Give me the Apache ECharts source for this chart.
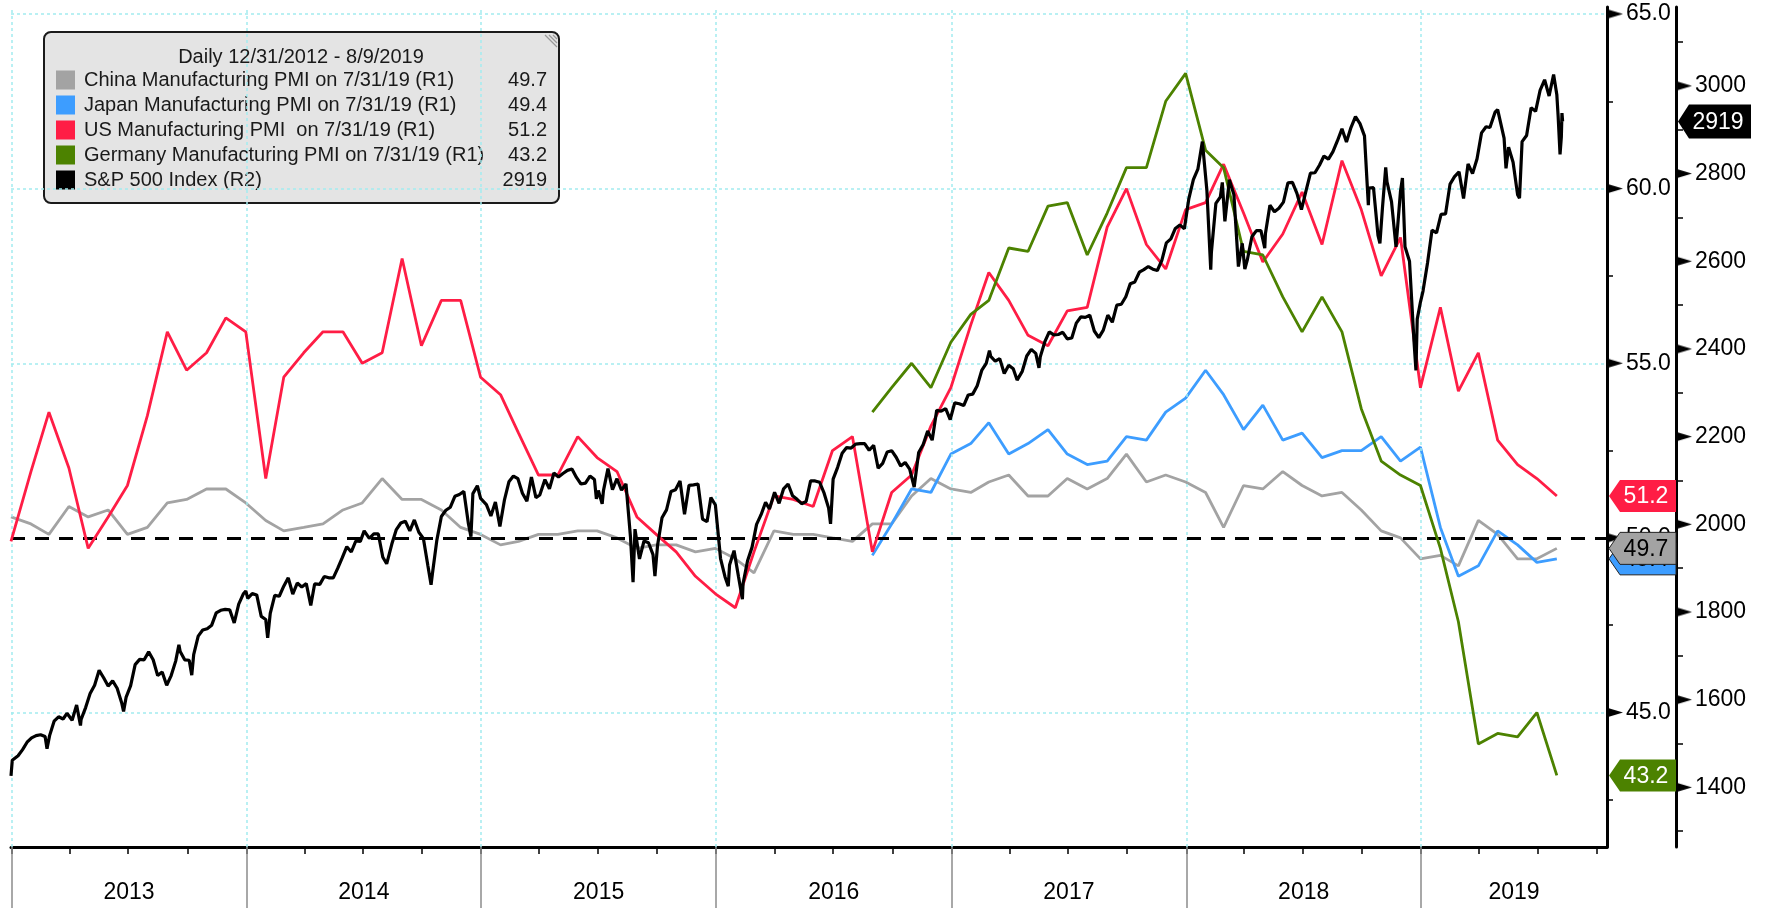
<!DOCTYPE html>
<html>
<head>
<meta charset="utf-8">
<title>Manufacturing PMI vs S&amp;P 500</title>
<script src="https://cdn.jsdelivr.net/npm/echarts@6/dist/echarts.min.js"></script>
<style>
  html, body { margin: 0; padding: 0; background: #fff; }
  #chart { width: 1765px; height: 908px; }
</style>
</head>
<body>
<div id="chart"></div>
<script>
const FONT = '"Liberation Sans", Arial, sans-serif';

// monthly PMI, first value is Dec 2012, last one Jul 2019 (month end)
const chinaPmi = [50.6,
  50.4, 50.1, 50.9, 50.6, 50.8, 50.1, 50.3, 51.0, 51.1, 51.4, 51.4, 51.0,
  50.5, 50.2, 50.3, 50.4, 50.8, 51.0, 51.7, 51.1, 51.1, 50.8, 50.3, 50.1,
  49.8, 49.9, 50.1, 50.1, 50.2, 50.2, 50.0, 49.7, 49.8, 49.8, 49.6, 49.7,
  49.4, 49.0, 50.2, 50.1, 50.1, 50.0, 49.9, 50.4, 50.4, 51.2, 51.7, 51.4,
  51.3, 51.6, 51.8, 51.2, 51.2, 51.7, 51.4, 51.7, 52.4, 51.6, 51.8, 51.6,
  51.3, 50.3, 51.5, 51.4, 51.9, 51.5, 51.2, 51.3, 50.8, 50.2, 50.0, 49.4,
  49.5, 49.2, 50.5, 50.1, 49.4, 49.4, 49.7];
const usPmi = [49.9,
  51.9, 53.6, 52.0, 49.7, 50.6, 51.5, 53.5, 55.9, 54.8, 55.3, 56.3, 55.9,
  51.7, 54.6, 55.3, 55.9, 55.9, 55.0, 55.3, 58.0, 55.5, 56.8, 56.8, 54.6,
  54.1, 53.0, 51.8, 51.8, 52.9, 52.3, 51.9, 50.6, 50.1, 49.6, 48.9, 48.4,
  48.0, 49.6, 51.2, 51.1, 50.9, 52.5, 52.9, 49.6, 51.3, 51.8, 53.2, 54.3,
  56.1, 57.6, 56.8, 55.8, 55.5, 56.5, 56.6, 58.9, 60.0, 58.4, 57.7, 59.4,
  59.6, 60.7, 59.3, 57.9, 58.7, 59.9, 58.4, 60.8, 59.4, 57.5, 58.6, 54.3,
  56.6, 54.2, 55.3, 52.8, 52.1, 51.7, 51.2];
// these two start in Aug 2016
const japanPmi = [49.5, 50.4, 51.4, 51.3, 52.4,
  52.7, 53.3, 52.4, 52.7, 53.1, 52.4, 52.1, 52.2, 52.9, 52.8, 53.6, 54.0,
  54.8, 54.1, 53.1, 53.8, 52.8, 53.0, 52.3, 52.5, 52.5, 52.9, 52.2, 52.6,
  50.3, 48.9, 49.2, 50.2, 49.8, 49.3, 49.4];
const germanyPmi = [53.6, 54.3, 55.0, 54.3, 55.6,
  56.4, 56.8, 58.3, 58.2, 59.5, 59.6, 58.1, 59.3, 60.6, 60.6, 62.5, 63.3,
  61.1, 60.6, 58.2, 58.1, 56.9, 55.9, 56.9, 55.9, 53.7, 52.2, 51.8, 51.5,
  49.7, 47.6, 44.1, 44.4, 44.3, 45.0, 43.2];

// S&P 500 closes, one row per year
const spx2013 = [
  ['2012-12-31', 1426], ['2013-01-02', 1462], ['2013-01-04', 1466], ['2013-01-11', 1472], ['2013-01-18', 1486],
  ['2013-01-25', 1503], ['2013-02-01', 1513], ['2013-02-08', 1518], ['2013-02-15', 1520], ['2013-02-22', 1516],
  ['2013-02-25', 1488], ['2013-03-01', 1518], ['2013-03-08', 1551], ['2013-03-15', 1561], ['2013-03-22', 1556],
  ['2013-03-28', 1569], ['2013-04-05', 1553], ['2013-04-12', 1588], ['2013-04-18', 1541], ['2013-04-19', 1555],
  ['2013-04-26', 1582], ['2013-05-03', 1614], ['2013-05-10', 1633], ['2013-05-17', 1667], ['2013-05-24', 1650],
  ['2013-05-31', 1631], ['2013-06-07', 1643], ['2013-06-14', 1626], ['2013-06-21', 1593], ['2013-06-24', 1573],
  ['2013-06-28', 1606], ['2013-07-05', 1632], ['2013-07-12', 1680], ['2013-07-19', 1692], ['2013-07-26', 1691],
  ['2013-08-02', 1709], ['2013-08-09', 1691], ['2013-08-16', 1655], ['2013-08-23', 1663], ['2013-08-30', 1633],
  ['2013-09-06', 1655], ['2013-09-13', 1688], ['2013-09-18', 1725], ['2013-09-20', 1710], ['2013-09-27', 1691],
  ['2013-10-04', 1690], ['2013-10-08', 1656], ['2013-10-11', 1703], ['2013-10-18', 1745], ['2013-10-25', 1759],
  ['2013-11-01', 1762], ['2013-11-08', 1770], ['2013-11-15', 1798], ['2013-11-22', 1804], ['2013-11-29', 1806],
  ['2013-12-06', 1805], ['2013-12-13', 1775], ['2013-12-20', 1818], ['2013-12-27', 1841], ['2013-12-31', 1848]
];
const spx2014 = [
  ['2014-01-03', 1831], ['2014-01-10', 1842], ['2014-01-17', 1839], ['2014-01-24', 1790], ['2014-01-31', 1783],
  ['2014-02-03', 1741], ['2014-02-07', 1797], ['2014-02-14', 1838], ['2014-02-21', 1836], ['2014-02-28', 1859],
  ['2014-03-07', 1878], ['2014-03-14', 1841], ['2014-03-21', 1866], ['2014-03-28', 1857], ['2014-04-04', 1865],
  ['2014-04-11', 1815], ['2014-04-17', 1864], ['2014-04-25', 1863], ['2014-05-02', 1881], ['2014-05-09', 1878],
  ['2014-05-16', 1878], ['2014-05-23', 1900], ['2014-05-30', 1924], ['2014-06-06', 1949], ['2014-06-13', 1937],
  ['2014-06-20', 1962], ['2014-06-27', 1961], ['2014-07-03', 1985], ['2014-07-11', 1968], ['2014-07-18', 1978],
  ['2014-07-25', 1978], ['2014-08-01', 1925], ['2014-08-07', 1910], ['2014-08-15', 1955], ['2014-08-22', 1988],
  ['2014-08-29', 2003], ['2014-09-05', 2007], ['2014-09-12', 1985], ['2014-09-19', 2010], ['2014-09-26', 1982],
  ['2014-10-03', 1968], ['2014-10-10', 1906], ['2014-10-15', 1862], ['2014-10-17', 1886], ['2014-10-24', 1964],
  ['2014-10-31', 2018], ['2014-11-07', 2032], ['2014-11-14', 2039], ['2014-11-21', 2064], ['2014-11-28', 2068],
  ['2014-12-05', 2075], ['2014-12-12', 2002], ['2014-12-16', 1972], ['2014-12-19', 2070], ['2014-12-26', 2088],
  ['2014-12-31', 2059]
];
const spx2015 = [
  ['2015-01-02', 2058], ['2015-01-09', 2045], ['2015-01-16', 2019], ['2015-01-23', 2051], ['2015-01-30', 1995],
  ['2015-02-06', 2055], ['2015-02-13', 2097], ['2015-02-20', 2110], ['2015-02-27', 2104], ['2015-03-06', 2071],
  ['2015-03-13', 2053], ['2015-03-20', 2108], ['2015-03-27', 2061], ['2015-04-02', 2067], ['2015-04-10', 2102],
  ['2015-04-17', 2081], ['2015-04-24', 2117], ['2015-05-01', 2108], ['2015-05-08', 2116], ['2015-05-15', 2123],
  ['2015-05-22', 2126], ['2015-05-29', 2107], ['2015-06-05', 2092], ['2015-06-12', 2094], ['2015-06-19', 2110],
  ['2015-06-26', 2102], ['2015-06-29', 2058], ['2015-07-02', 2077], ['2015-07-08', 2047], ['2015-07-10', 2077],
  ['2015-07-17', 2127], ['2015-07-24', 2079], ['2015-07-31', 2104], ['2015-08-07', 2078], ['2015-08-14', 2092],
  ['2015-08-21', 1971], ['2015-08-25', 1868], ['2015-08-28', 1989], ['2015-09-04', 1921], ['2015-09-11', 1962],
  ['2015-09-18', 1958], ['2015-09-25', 1931], ['2015-09-28', 1882], ['2015-10-02', 1951], ['2015-10-09', 2015],
  ['2015-10-16', 2033], ['2015-10-23', 2075], ['2015-10-30', 2079], ['2015-11-06', 2099], ['2015-11-13', 2023],
  ['2015-11-20', 2089], ['2015-11-27', 2090], ['2015-12-04', 2092], ['2015-12-11', 2012], ['2015-12-18', 2006],
  ['2015-12-24', 2061], ['2015-12-31', 2044]
];
const spx2016 = [
  ['2016-01-08', 1922], ['2016-01-15', 1880], ['2016-01-20', 1859], ['2016-01-22', 1907], ['2016-01-29', 1940],
  ['2016-02-05', 1880], ['2016-02-11', 1829], ['2016-02-12', 1865], ['2016-02-19', 1917], ['2016-02-26', 1948],
  ['2016-03-04', 2000], ['2016-03-11', 2022], ['2016-03-18', 2050], ['2016-03-24', 2035], ['2016-04-01', 2073],
  ['2016-04-08', 2048], ['2016-04-15', 2081], ['2016-04-22', 2092], ['2016-04-29', 2065], ['2016-05-06', 2057],
  ['2016-05-13', 2047], ['2016-05-20', 2052], ['2016-05-27', 2099], ['2016-06-03', 2099], ['2016-06-10', 2096],
  ['2016-06-17', 2071], ['2016-06-24', 2037], ['2016-06-27', 2001], ['2016-07-01', 2103], ['2016-07-08', 2130],
  ['2016-07-15', 2162], ['2016-07-22', 2175], ['2016-07-29', 2174], ['2016-08-05', 2183], ['2016-08-12', 2184],
  ['2016-08-19', 2184], ['2016-08-26', 2169], ['2016-09-02', 2180], ['2016-09-09', 2128], ['2016-09-16', 2139],
  ['2016-09-23', 2165], ['2016-09-30', 2168], ['2016-10-07', 2153], ['2016-10-14', 2133], ['2016-10-21', 2141],
  ['2016-10-28', 2126], ['2016-11-04', 2085], ['2016-11-11', 2164], ['2016-11-18', 2182], ['2016-11-25', 2213],
  ['2016-12-02', 2192], ['2016-12-09', 2260], ['2016-12-16', 2258], ['2016-12-23', 2264], ['2016-12-30', 2239]
];
const spx2017 = [
  ['2017-01-06', 2277], ['2017-01-13', 2275], ['2017-01-20', 2271], ['2017-01-27', 2295], ['2017-02-03', 2297],
  ['2017-02-10', 2316], ['2017-02-17', 2351], ['2017-02-24', 2367], ['2017-03-01', 2396], ['2017-03-03', 2383],
  ['2017-03-10', 2372], ['2017-03-17', 2378], ['2017-03-24', 2344], ['2017-03-31', 2363], ['2017-04-07', 2355],
  ['2017-04-13', 2329], ['2017-04-21', 2349], ['2017-04-28', 2384], ['2017-05-05', 2399], ['2017-05-12', 2390],
  ['2017-05-17', 2357], ['2017-05-19', 2382], ['2017-05-26', 2416], ['2017-06-02', 2439], ['2017-06-09', 2432],
  ['2017-06-16', 2433], ['2017-06-23', 2438], ['2017-06-30', 2423], ['2017-07-07', 2425], ['2017-07-14', 2459],
  ['2017-07-21', 2473], ['2017-07-28', 2472], ['2017-08-04', 2477], ['2017-08-11', 2441], ['2017-08-18', 2426],
  ['2017-08-25', 2443], ['2017-09-01', 2477], ['2017-09-08', 2461], ['2017-09-15', 2500], ['2017-09-22', 2502],
  ['2017-09-29', 2519], ['2017-10-06', 2549], ['2017-10-13', 2553], ['2017-10-20', 2575], ['2017-10-27', 2581],
  ['2017-11-03', 2588], ['2017-11-10', 2582], ['2017-11-17', 2579], ['2017-11-24', 2602], ['2017-12-01', 2642],
  ['2017-12-08', 2651], ['2017-12-15', 2675], ['2017-12-22', 2683], ['2017-12-29', 2674]
];
const spx2018 = [
  ['2018-01-05', 2743], ['2018-01-12', 2786], ['2018-01-19', 2810], ['2018-01-26', 2873], ['2018-02-02', 2762],
  ['2018-02-08', 2581], ['2018-02-09', 2620], ['2018-02-16', 2732], ['2018-02-23', 2747], ['2018-02-26', 2780],
  ['2018-03-02', 2691], ['2018-03-09', 2786], ['2018-03-16', 2752], ['2018-03-23', 2588], ['2018-03-29', 2641],
  ['2018-04-02', 2582], ['2018-04-06', 2604], ['2018-04-13', 2656], ['2018-04-20', 2670], ['2018-04-27', 2670],
  ['2018-05-03', 2630], ['2018-05-04', 2663], ['2018-05-11', 2728], ['2018-05-18', 2713], ['2018-05-25', 2721],
  ['2018-06-01', 2735], ['2018-06-08', 2779], ['2018-06-15', 2780], ['2018-06-22', 2755], ['2018-06-29', 2718],
  ['2018-07-06', 2760], ['2018-07-13', 2801], ['2018-07-20', 2802], ['2018-07-27', 2819], ['2018-08-03', 2840],
  ['2018-08-10', 2833], ['2018-08-17', 2850], ['2018-08-24', 2875], ['2018-08-31', 2902], ['2018-09-07', 2872],
  ['2018-09-14', 2905], ['2018-09-21', 2930], ['2018-09-28', 2914], ['2018-10-05', 2886], ['2018-10-11', 2728],
  ['2018-10-12', 2767], ['2018-10-19', 2768], ['2018-10-26', 2659], ['2018-10-29', 2641], ['2018-11-02', 2723],
  ['2018-11-07', 2814], ['2018-11-09', 2781], ['2018-11-16', 2736], ['2018-11-23', 2633], ['2018-11-30', 2760],
  ['2018-12-03', 2790], ['2018-12-07', 2633], ['2018-12-14', 2600], ['2018-12-21', 2417], ['2018-12-24', 2351],
  ['2018-12-26', 2468], ['2018-12-31', 2507]
];
const spx2019 = [
  ['2019-01-04', 2532], ['2019-01-11', 2596], ['2019-01-18', 2671], ['2019-01-25', 2665], ['2019-02-01', 2707],
  ['2019-02-08', 2708], ['2019-02-15', 2776], ['2019-02-22', 2793], ['2019-03-01', 2804], ['2019-03-08', 2743],
  ['2019-03-15', 2822], ['2019-03-22', 2800], ['2019-03-29', 2834], ['2019-04-05', 2893], ['2019-04-12', 2907],
  ['2019-04-18', 2905], ['2019-04-26', 2940], ['2019-04-30', 2946], ['2019-05-03', 2946], ['2019-05-10', 2881],
  ['2019-05-13', 2812], ['2019-05-17', 2860], ['2019-05-24', 2826], ['2019-05-31', 2752], ['2019-06-03', 2744],
  ['2019-06-07', 2873], ['2019-06-14', 2887], ['2019-06-21', 2950], ['2019-06-28', 2942], ['2019-07-05', 2990],
  ['2019-07-12', 3014], ['2019-07-19', 2977], ['2019-07-26', 3026], ['2019-07-31', 2980], ['2019-08-02', 2932],
  ['2019-08-05', 2844], ['2019-08-07', 2883], ['2019-08-08', 2938], ['2019-08-09', 2919]
];

const names = [
  'China Manufacturing PMI on 7/31/19 (R1)',
  'Japan Manufacturing PMI on 7/31/19 (R1)',
  'US Manufacturing PMI  on 7/31/19 (R1)',
  'Germany Manufacturing PMI on 7/31/19 (R1)',
  'S&P 500 Index (R2)'
];
const colors = ['#a3a3a3', '#3d9dff', '#ff1d45', '#4c8200', '#000000'];
const pmiTicks = [45, 50, 55, 60, 65];
const pmiMinor = [42.5, 47.5, 52.5, 57.5, 62.5];
const spTicks = [1400, 1600, 1800, 2000, 2200, 2400, 2600, 2800, 3000];
const spMinor = [1300, 1500, 1700, 1900, 2100, 2300, 2500, 2700, 2900, 3100];
const years = [2013, 2014, 2015, 2016, 2017, 2018, 2019];

function ts(s) {
  const p = s.split('-').map(Number);
  return new Date(p[0], p[1] - 1, p[2]).getTime();
}
const xMin = ts('2012-12-31');
const xMax = ts('2019-10-17');

// month-end dates for the PMI series
const pmiDates = chinaPmi.map((_, i) => new Date(2012 + Math.floor((11 + i) / 12), (11 + i) % 12 + 1, 0).getTime());
function monthly(vals) {
  const off = pmiDates.length - vals.length;
  return vals.map((v, i) => [pmiDates[off + i], v]);
}
const spx = [].concat(spx2013, spx2014, spx2015, spx2016, spx2017, spx2018, spx2019);
const spData = spx.map(d => [ts(d[0]), d[1]]);

const quarterTicks = [];
years.forEach(y => [0, 3, 6, 9].forEach(m => {
  const t = new Date(y, m, 1).getTime();
  if (t >= xMin && t <= xMax) quarterTicks.push(t);
}));
const yearStarts = years.map(y => new Date(y, 0, 1).getTime());
const yearMids = years.map(y => {
  const a = Math.max(new Date(y, 0, 1).getTime(), xMin);
  const b = Math.min(new Date(y + 1, 0, 1).getTime(), xMax);
  return (a + b) / 2;
});

const lastText = {};
lastText[names[0]] = chinaPmi[chinaPmi.length - 1].toFixed(1);
lastText[names[1]] = japanPmi[japanPmi.length - 1].toFixed(1);
lastText[names[2]] = usPmi[usPmi.length - 1].toFixed(1);
lastText[names[3]] = germanyPmi[germanyPmi.length - 1].toFixed(1);
lastText[names[4]] = String(spx[spx.length - 1][1]);

function lineSeries(i, data, yAxisIndex, width) {
  return {
    name: names[i], type: 'line', data: data, yAxisIndex: yAxisIndex,
    showSymbol: false, symbol: 'none', color: colors[i],
    lineStyle: { width: width, color: colors[i] }, z: 3 + i
  };
}

// value tag drawn at the right edge of the plot, pointing at the last value
function tagSeries(point, yAxisIndex, fill, textColor, stroke, text) {
  const onR2 = yAxisIndex === 1;
  return {
    type: 'custom', yAxisIndex: yAxisIndex, z: 20, clip: false, silent: true,
    data: [point],
    renderItem: function (params, api) {
      const cs = params.coordSys;
      const y = api.coord([api.value(0), api.value(1)])[1];
      const x = cs.x + cs.width + (onR2 ? 69 : 0);
      const w = onR2 ? 75 : 69;
      const h = onR2 ? 17 : 16;
      return {
        type: 'group',
        children: [
          {
            type: 'polygon',
            shape: { points: [[x + 2, y], [x + 13, y - h], [x + w, y - h], [x + w, y + h], [x + 13, y + h]] },
            style: { fill: fill, stroke: stroke || null, lineWidth: stroke ? 1 : 0 }
          },
          {
            type: 'text',
            style: {
              text: text, x: x + (onR2 ? 42 : 39), y: y + 1, align: 'center', verticalAlign: 'middle',
              fill: textColor, fontSize: 23, fontFamily: FONT
            }
          }
        ]
      };
    }
  };
}

// small black pointer used in front of each axis label
const tri = document.createElement('canvas');
tri.width = 15;
tri.height = 9;
(function () {
  const c = tri.getContext('2d');
  c.fillStyle = '#000';
  c.beginPath();
  c.moveTo(0, 0);
  c.lineTo(15, 4.5);
  c.lineTo(0, 9);
  c.closePath();
  c.fill();
})();

function axisLabelFmt(digits) {
  return function (v) { return '{t| }{v|' + (digits ? v.toFixed(digits) : v) + '}'; };
}
const axisRich = {
  t: { width: 15, height: 9, verticalAlign: 'middle', backgroundColor: { image: tri } },
  v: { fontSize: 23, color: '#000', fontFamily: FONT, padding: [0, 0, 0, 3] }
};

const chart = echarts.init(document.getElementById('chart'));

chart.setOption({
  animation: false,
  backgroundColor: '#ffffff',
  textStyle: { fontFamily: FONT },
  grid: { left: 11, right: 158, top: 7, bottom: 61, containLabel: false },
  legend: {
    left: 44, top: 32,
    orient: 'vertical',
    padding: [38, 12, 13, 12],
    itemWidth: 19, itemHeight: 19, itemGap: 5,
    icon: 'rect',
    backgroundColor: '#e4e4e4',
    borderColor: '#1a1a1a', borderWidth: 2, borderRadius: 7,
    selectedMode: false,
    data: names,
    formatter: function (name) { return '{n|' + name + '}{v|' + lastText[name] + '}'; },
    textStyle: {
      fontFamily: FONT, fontSize: 20, color: '#1a1a1a', lineHeight: 19,
      rich: {
        n: { width: 411, padding: [0, 0, 0, 4], fontSize: 20, lineHeight: 19, fontFamily: FONT, color: '#1a1a1a' },
        v: { width: 52, align: 'right', fontSize: 20, lineHeight: 19, fontFamily: FONT, color: '#1a1a1a' }
      }
    }
  },
  graphic: [
    {
      type: 'text', z: 100, x: 301, y: 57,
      style: { text: 'Daily 12/31/2012 - 8/9/2019', align: 'center', verticalAlign: 'middle', fontSize: 20, fontFamily: FONT, fill: '#1a1a1a' }
    },
    { type: 'line', z: 100, shape: { x1: 545, y1: 35, x2: 557, y2: 47 }, style: { stroke: '#999', lineWidth: 1.2 } },
    { type: 'line', z: 100, shape: { x1: 549, y1: 35, x2: 557, y2: 43 }, style: { stroke: '#999', lineWidth: 1.2 } },
    { type: 'line', z: 100, shape: { x1: 553, y1: 35, x2: 557, y2: 39 }, style: { stroke: '#999', lineWidth: 1.2 } }
  ],
  xAxis: [
    {
      type: 'value', min: xMin, max: xMax, position: 'bottom',
      axisLine: { show: true, lineStyle: { color: '#000', width: 3 } },
      axisTick: { show: true, customValues: quarterTicks, length: 7, lineStyle: { color: '#000', width: 1.5 } },
      axisLabel: {
        customValues: yearMids, margin: 34, fontSize: 23, color: '#000', fontFamily: FONT,
        formatter: function (v) { return String(new Date(v).getFullYear()); }
      },
      splitLine: { show: false }
    },
    {
      type: 'value', min: xMin, max: xMax, position: 'bottom',
      axisLine: { show: false },
      axisTick: { show: true, customValues: yearStarts, length: 61, lineStyle: { color: '#8c8c8c', width: 1.5 } },
      axisLabel: { show: false },
      splitLine: { show: false }
    }
  ],
  yAxis: [
    {
      type: 'value', position: 'right', min: 41.15, max: 65.2,
      axisLine: { show: true, lineStyle: { color: '#000', width: 3 } },
      axisTick: { show: true, customValues: pmiMinor, length: 6, lineStyle: { color: '#000', width: 1.5 } },
      axisLabel: { customValues: pmiTicks, margin: 1, color: '#000', formatter: axisLabelFmt(1), rich: axisRich },
      splitLine: { show: false }
    },
    {
      type: 'value', position: 'right', offset: 69, min: 1264, max: 3180,
      axisLine: { show: true, lineStyle: { color: '#000', width: 3 } },
      axisTick: { show: true, customValues: spMinor, length: 7, lineStyle: { color: '#000', width: 1.5 } },
      axisLabel: { customValues: spTicks, margin: 1, color: '#000', formatter: axisLabelFmt(0), rich: axisRich },
      splitLine: { show: false }
    }
  ],
  series: [
    {
      // light dashed grid
      name: 'grid', type: 'line', data: [], yAxisIndex: 0, z: 1, silent: true,
      markLine: {
        silent: true, symbol: 'none', label: { show: false },
        lineStyle: { color: '#a3ebf0', width: 1.5, type: [3, 3] },
        emphasis: { disabled: true },
        data: [45, 55, 60, 65].map(v => ({ yAxis: v })).concat(yearStarts.map(t => ({ xAxis: t })))
      }
    },
    lineSeries(0, monthly(chinaPmi), 0, 2.8),
    lineSeries(1, monthly(japanPmi), 0, 2.8),
    lineSeries(2, monthly(usPmi), 0, 2.8),
    lineSeries(3, monthly(germanyPmi), 0, 2.8),
    {
      name: 'ref50', type: 'line', data: [], yAxisIndex: 0, z: 8, silent: true,
      markLine: {
        silent: true, symbol: 'none', label: { show: false },
        lineStyle: { color: '#000', width: 3, type: [14, 10] },
        emphasis: { disabled: true },
        data: [{ yAxis: 50 }]
      }
    },
    lineSeries(4, spData, 1, 3.2),
    tagSeries([pmiDates[pmiDates.length - 1], germanyPmi[germanyPmi.length - 1]], 0, colors[3], '#fff', null, lastText[names[3]]),
    tagSeries([pmiDates[pmiDates.length - 1], usPmi[usPmi.length - 1]], 0, colors[2], '#fff', null, lastText[names[2]]),
    tagSeries([pmiDates[pmiDates.length - 1], japanPmi[japanPmi.length - 1]], 0, colors[1], '#000', '#222', lastText[names[1]]),
    tagSeries([pmiDates[pmiDates.length - 1], chinaPmi[chinaPmi.length - 1]], 0, colors[0], '#000', '#222', lastText[names[0]]),
    tagSeries(spData[spData.length - 1], 1, '#000', '#fff', null, lastText[names[4]])
  ]
});
</script>
</body>
</html>
